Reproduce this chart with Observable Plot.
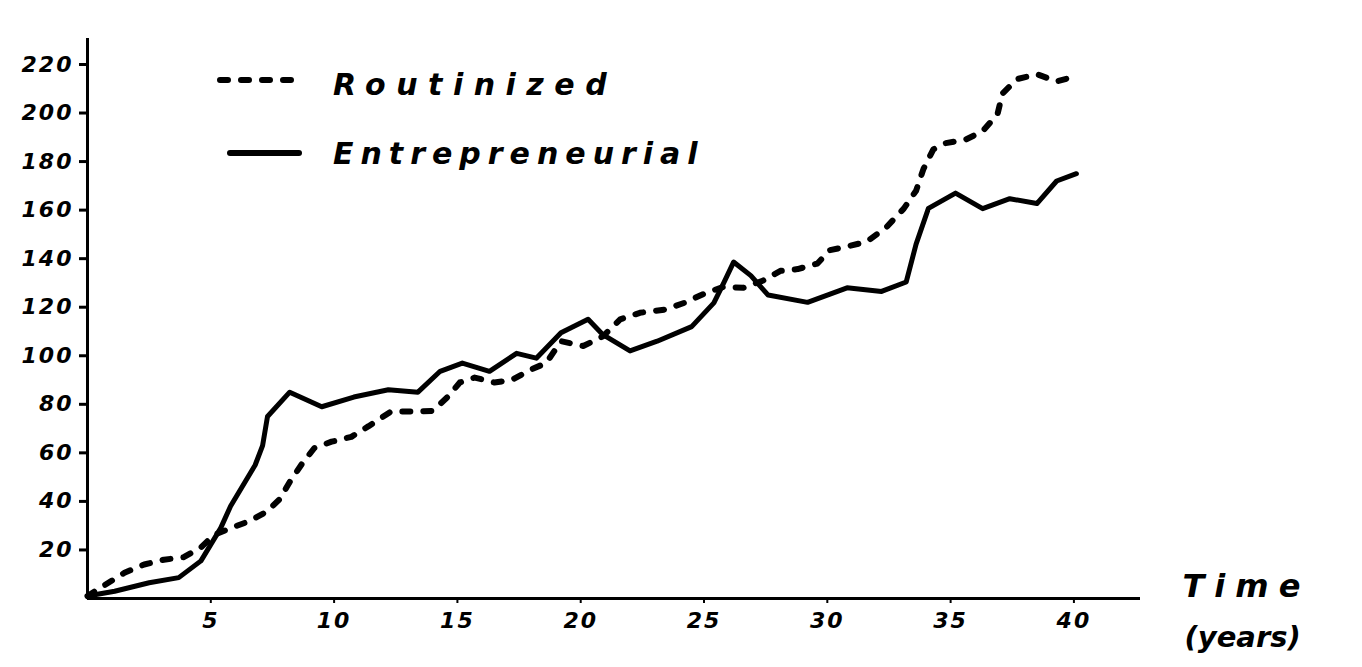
<!DOCTYPE html>
<html>
<head>
<meta charset="utf-8">
<script src="https://cdn.jsdelivr.net/npm/d3@7"></script>
<script src="https://cdn.jsdelivr.net/npm/@observablehq/plot@0.6"></script>
<style>
  html, body { margin: 0; padding: 0; background: #fff; }
  #wrap { position: relative; width: 1362px; height: 667px; }
  #wrap svg text { font-family: "DejaVu Sans", sans-serif; font-style: italic; font-weight: bold; fill: #000; }
  .ylab text { letter-spacing: 2px; }
  .xlab text { letter-spacing: 2px; }
  .timelab text { letter-spacing: 10px; }
  .yearslab text { letter-spacing: 0px; }
  #legend { position: absolute; left: 0; top: 0; }
  #legend text { font-family: "DejaVu Sans", sans-serif; font-style: italic; font-weight: bold; font-size: 30px; fill: #000; }
</style>
</head>
<body>
<div id="wrap"></div>
<script>
// Tick labels
const yTicks = [20, 40, 60, 80, 100, 120, 140, 160, 180, 200, 220];
const xTicks = [5, 10, 15, 20, 25, 30, 35, 40];

// Routinized (dashed) — years and values
const routYears = [0, 0.3, 1.5, 2.3, 3.1, 3.9, 4.6, 5.1, 5.8, 6.6, 7.3, 7.8, 8.2, 8.7, 9.2, 9.9, 10.7, 11.4, 12.3, 13.2, 14.0, 14.6, 15.1, 15.7, 16.5, 17.2, 18.0, 18.6, 19.2, 20.1, 20.9, 21.6, 22.4, 23.4, 24.2, 25.1, 25.8, 26.6, 27.4, 28.1, 28.8, 29.6, 30.1, 30.8, 31.6, 32.4, 33.1, 33.6, 33.9, 34.3, 34.8, 35.6, 36.3, 36.9, 37.1, 37.7, 38.5, 39.3, 40.0];
const routValues = [1, 3, 10.6, 14, 16, 17, 21, 26, 29, 32, 36, 41, 48, 55.5, 62, 64.6, 66.6, 71, 77, 77, 77.3, 83, 89, 91, 89, 90, 94.4, 97, 106, 104, 108, 115, 117.7, 119, 121.8, 126, 128.4, 128, 131, 135, 135.7, 138, 143.5, 145, 147, 153, 160.6, 168, 177, 185, 187.6, 189, 192.5, 199.5, 208, 214, 216, 213, 215];

// Entrepreneurial (solid)
const entYears = [0, 1.1, 2.5, 3.7, 4.6, 5.4, 5.8, 6.8, 7.1, 7.3, 8.2, 9.5, 10.8, 12.2, 13.4, 14.3, 15.2, 16.3, 17.4, 18.2, 19.2, 20.3, 20.9, 22.0, 23.1, 24.5, 25.4, 25.8, 26.2, 26.9, 27.6, 29.2, 30.8, 32.2, 33.2, 33.6, 34.1, 35.2, 36.3, 37.4, 38.5, 39.3, 40.1];
const entValues = [1, 3, 6.5, 8.6, 15.5, 29, 38, 55, 63, 75, 85, 79, 83, 86, 85, 93.6, 97, 93.6, 101, 99, 109.5, 115, 108.7, 102, 106, 112, 121.8, 130, 138.6, 133, 125, 122, 128, 126.5, 130.4, 146, 160.7, 167, 160.6, 164.7, 162.7, 172, 175];

const seriesNames = ["Routinized", "Entrepreneurial"];

const rout = routYears.map((t, i) => ({t, v: routValues[i]}));
const ent = entYears.map((t, i) => ({t, v: entValues[i]}));

const chart = Plot.plot({
  width: 1362,
  height: 667,
  marginLeft: 87,
  marginRight: 222,
  marginTop: 38,
  marginBottom: 69,
  x: {domain: [0, 42.7], label: null},
  y: {domain: [0, 230], range: [598, 39.7], label: null},
  style: {background: "#fff", color: "#000"},
  marks: [
    Plot.ruleX([0], {strokeWidth: 3}),
    Plot.ruleY([0], {strokeWidth: 3}),
    Plot.axisY({ticks: yTicks, tickSize: 8, strokeWidth: 3, tickPadding: 6, fontSize: 22, label: null, className: "ylab"}),
    Plot.axisX({ticks: xTicks, tickSize: 5, strokeWidth: 2, tickPadding: 9, fontSize: 22, label: null, className: "xlab"}),
    Plot.line(rout, {x: "t", y: "v", stroke: "#000", strokeWidth: 6, strokeDasharray: "8,13", strokeLinecap: "round", strokeLinejoin: "round"}),
    Plot.line(ent, {x: "t", y: "v", stroke: "#000", strokeWidth: 5, strokeLinecap: "round", strokeLinejoin: "round"}),
    Plot.text(["Time"], {frameAnchor: "bottom-right", dx: 42, dy: -2, textAnchor: "start", lineAnchor: "bottom", fontSize: 32, className: "timelab"}),
    Plot.text(["(years)"], {frameAnchor: "bottom-right", dx: 44, dy: 48, textAnchor: "start", lineAnchor: "bottom", fontSize: 29, className: "yearslab"})
  ]
});
document.getElementById("wrap").appendChild(chart);

// Legend overlay
const ns = "http://www.w3.org/2000/svg";
const leg = document.createElementNS(ns, "svg");
leg.setAttribute("id", "legend");
leg.setAttribute("width", "760");
leg.setAttribute("height", "200");
leg.innerHTML =
  '<line x1="220" y1="80" x2="292" y2="80" stroke="#000" stroke-width="6" stroke-dasharray="8,13" stroke-linecap="round"/>' +
  '<text x="333" y="95" style="letter-spacing:10.5px">' + seriesNames[0] + '</text>' +
  '<line x1="230" y1="153" x2="299" y2="153" stroke="#000" stroke-width="6" stroke-linecap="round"/>' +
  '<text x="333" y="164" style="letter-spacing:7px">' + seriesNames[1] + '</text>';
document.getElementById("wrap").appendChild(leg);
</script>
</body>
</html>
